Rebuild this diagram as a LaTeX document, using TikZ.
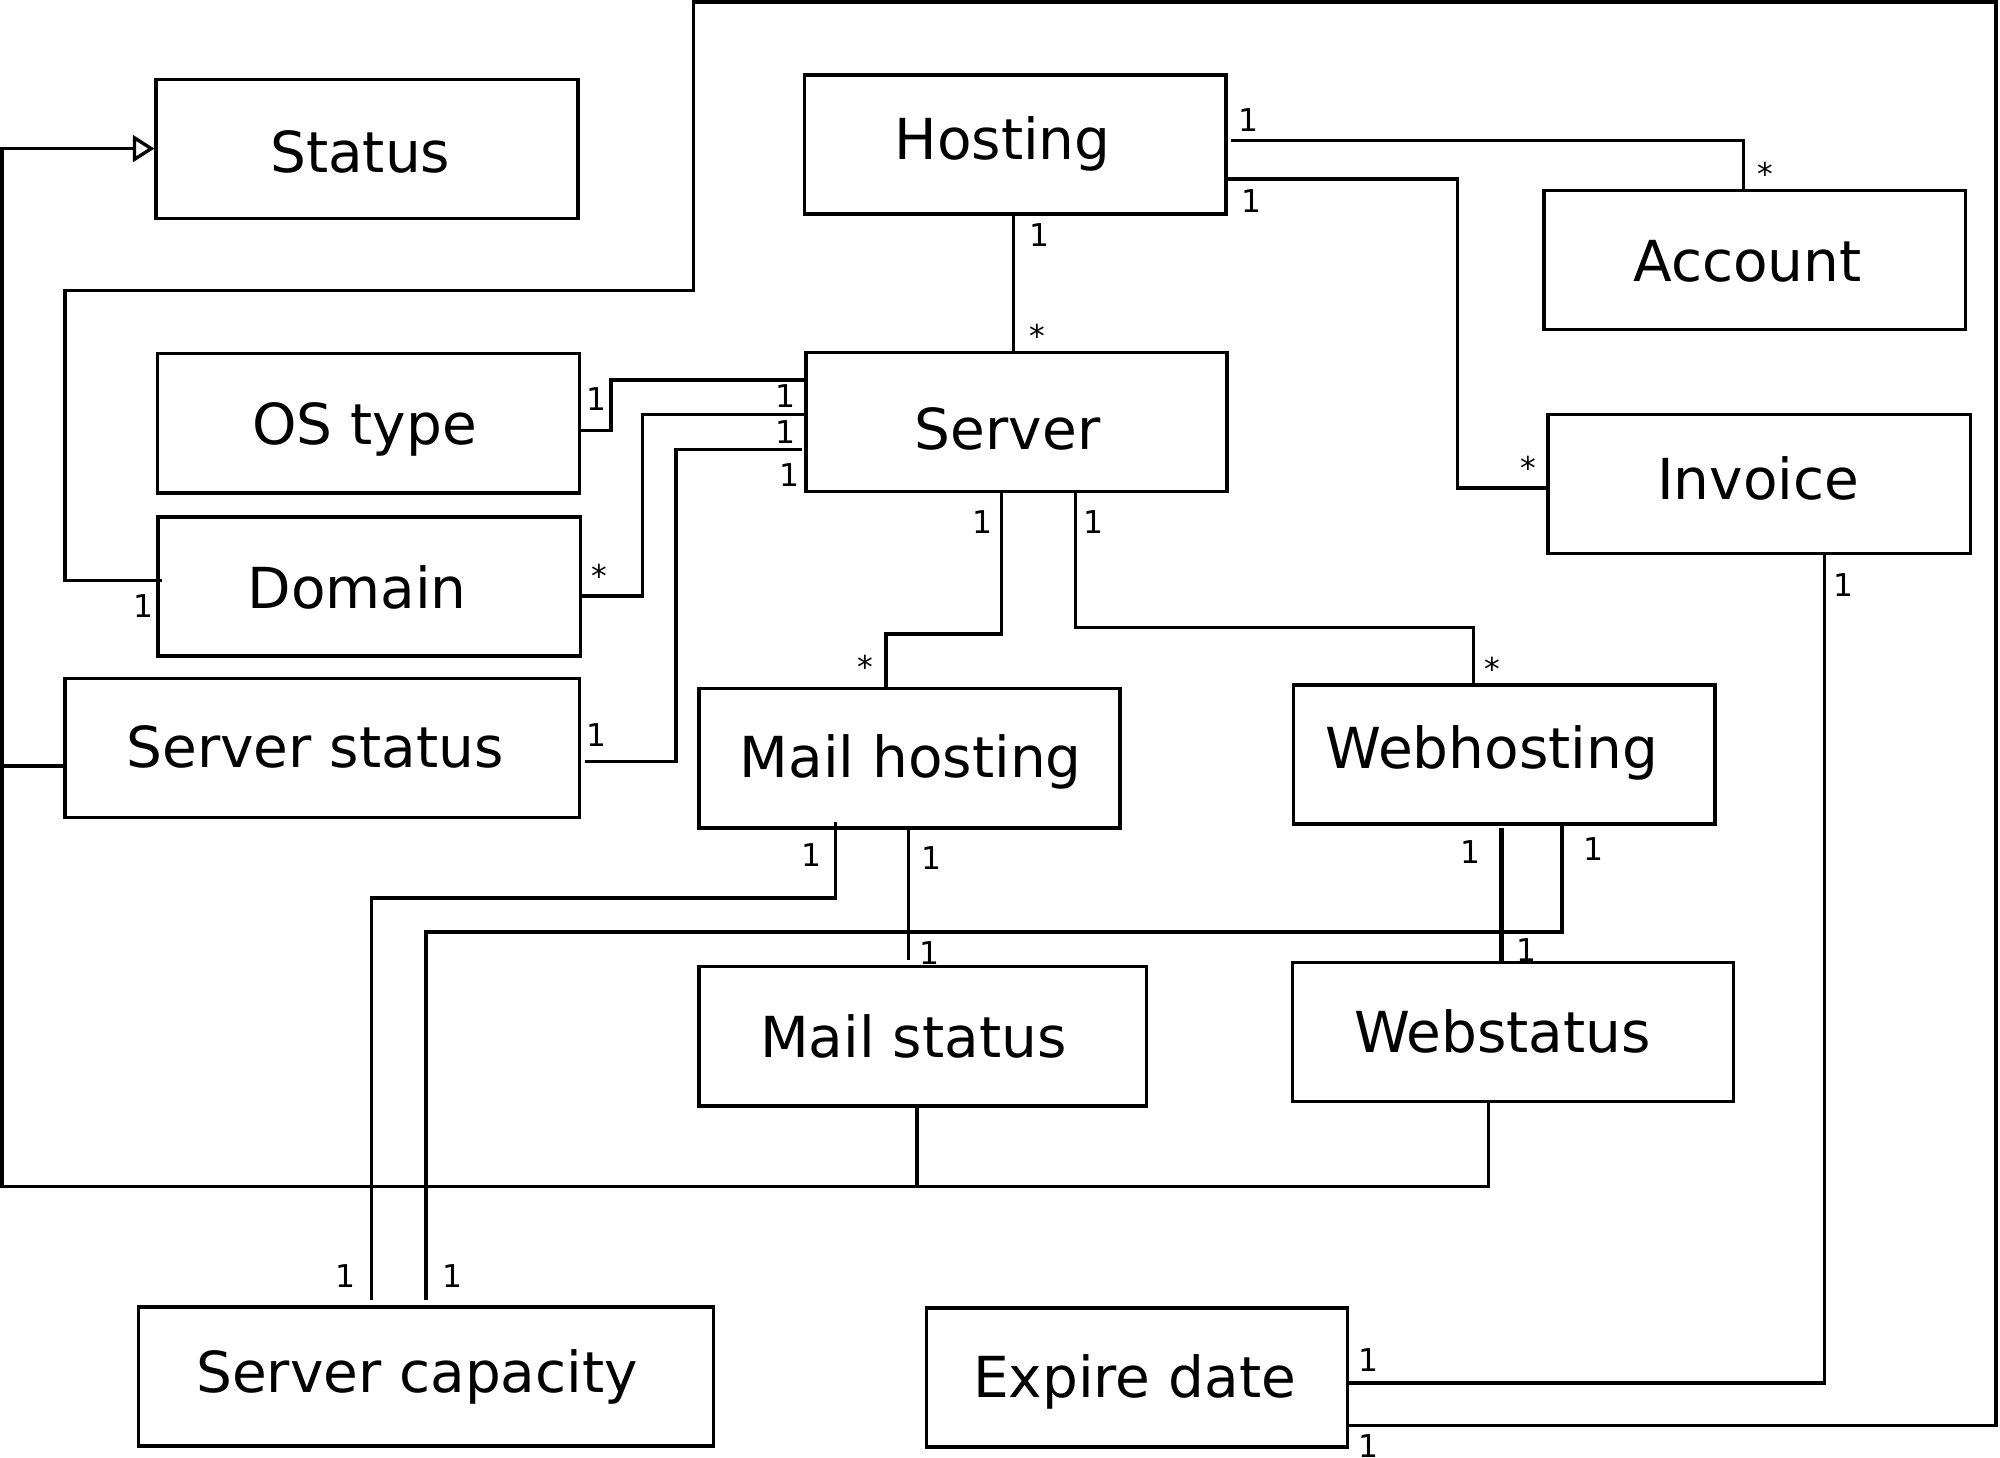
\documentclass[tikz,border=0pt]{standalone}
\usepackage{fontspec}
\setmainfont{DejaVu Sans}
\usetikzlibrary{arrows.meta}
\begin{document}
\begin{tikzpicture}[x=0.01cm,y=-0.01cm,
  box/.style={draw,line width=0.75pt,inner sep=0pt,minimum width=#1,minimum height=1.09cm},
  txt/.style={anchor=base,inner sep=0pt,font=\fontsize{12.6}{15}\selectfont},
  lab/.style={inner sep=0pt,font=\fontsize{7}{8}\selectfont},
  conn/.style={line width=0.75pt},
  gen/.style={line width=0.75pt,-{Triangle[open,length=0.17cm,width=0.21cm]}}]
\useasboundingbox (0,0) rectangle (1568,1143);
% boxes
\node[box=3.305cm] (status) at (287.75,116.75) {};
\node[box=3.30cm] (hosting) at (796,113.25) {};
\node[box=3.305cm] (account) at (1375.75,203.75) {};
\node[box=3.305cm] (ostype) at (288.75,331.9) {};
\node[box=3.30cm] (server) at (797,330.85) {};
\node[box=3.31cm] (invoice) at (1379.1,379.4) {};
\node[box=3.31cm] (domain) at (289.5,459.75) {};
\node[box=4.03cm] (serverstatus) at (252.5,586.25) {};
\node[box=3.30cm] (mailhosting) at (713,594.5) {};
\node[box=3.305cm] (webhosting) at (1179.25,591.5) {};
\node[box=3.51cm] (mailstatus) at (723.5,812.5) {};
\node[box=3.455cm] (webstatus) at (1186.25,809.25) {};
\node[box=4.51cm] (servercap) at (334,1079.1) {};
\node[box=3.30cm] (expire) at (891.5,1080) {};
% texts
\node[txt] (tstatus) at (282.5,135) {Status};
\node[txt] (thosting) at (786,125.3) {Hosting};
\node[txt] (taccount) at (1370,220.5) {Account};
\node[txt] (tostype) at (286,348.3) {OS type};
\node[txt] (tserver) at (790,352.8) {Server};
\node[txt] (tinvoice) at (1378.5,391.3) {Invoice};
\node[txt] (tdomain) at (280,476.7) {Domain};
\node[txt] (tserverstatus) at (247,601.7) {Server status};
\node[txt] (tmailhosting) at (714,609.5) {Mail hosting};
\node[txt] (twebhosting) at (1169.5,602.5) {Webhosting};
\node[txt] (tmailstatus) at (716,828.8) {Mail status};
\node[txt] (twebstatus) at (1178,824.8) {Webstatus};
\node[txt] (tservercap) at (327,1091.5) {Server capacity};
\node[txt] (texpire) at (889.5,1095.5) {Expire date};
% generalization to Status
\draw[gen] (1167,0 |- webstatus.south) -- (1167,930) -- (1.5,930) -- (1.5,116.5) -- (status.west |- 0,116.5);
\draw[conn] (719,0 |- mailstatus.south) -- (719,930);
\draw[conn] (serverstatus.west |- 0,600.5) -- (1.5,600.5);
% outer loop Domain -- Expire date
\draw[conn] ([xshift=0.045cm]domain.west |- 0,455) -- (51,455) -- (51,228) -- (543.5,228) -- (543.5,1.5) -- (1565,1.5) -- (1565,1117.5) -- ([xshift=-0.025cm]expire.east |- 0,1117.5);
% Hosting connections
\draw[conn] ([xshift=0.025cm]hosting.east |- 0,110) -- (1367,110) -- (1367,0 |- account.north);
\draw[conn] (hosting.east |- 0,140.4) -- (1142.5,140.4) -- (1142.5,382.6) -- (invoice.west |- 0,382.6);
\draw[conn] (794.5,0 |- hosting.south) -- (794.5,0 |- server.north);
% Invoice -- Expire date
\draw[conn] ([yshift=0.02cm]invoice.south -| 1430.5,0) -- (1430.5,1084.3) -- (expire.east |- 0,1084.3);
% Server left side
\draw[conn] (server.west |- 0,297.9) -- (479,297.9) -- (479,337.4) -- (ostype.east |- 0,337.4);
\draw[conn] (server.west |- 0,325.2) -- (503.5,325.2) -- (503.5,467.3) -- (domain.east |- 0,467.3);
\draw[conn] ([xshift=-0.02cm]server.west |- 0,352.5) -- (530,352.5) -- (530,597) -- ([xshift=0.03cm]serverstatus.east |- 0,597);
% Server bottom
\draw[conn] ([yshift=0.025cm]server.south -| 785,0) -- (785,497) -- (694.5,497) -- ([yshift=-0.025cm]mailhosting.north -| 694.5,0);
\draw[conn] (843,0 |- server.south) -- (843,491.8) -- (1155,491.8) -- (1155,0 |- webhosting.north);
% to Server capacity
\draw[conn] ([yshift=0.06cm]mailhosting.south -| 655,0) -- (655,704) -- (291.5,704) -- ([yshift=0.037cm]servercap.north -| 291.5,0);
\draw[conn] ([yshift=0.03cm]webhosting.south -| 1224.5,0) -- (1224.5,730.7) -- (334,730.7) -- ([yshift=0.037cm]servercap.north -| 334,0);
% status links
\draw[conn] (712.5,0 |- mailhosting.south) -- ([yshift=0.04cm]mailstatus.north -| 712.5,0);
\draw[line width=1.1pt] ([yshift=-0.02cm]webhosting.south -| 1177,0) -- (1177,0 |- webstatus.north);
% multiplicity labels
\node[lab] (l1) at (979,94.5) {1};
\node[lab] (l2) at (1384,136.5) {*};
\node[lab] (l3) at (981.5,158) {1};
\node[lab] (l4) at (1198,366.5) {*};
\node[lab] (l5) at (815,184.5) {1};
\node[lab] (l6) at (813,263) {*};
\node[lab] (l7) at (467.5,313) {1};
\node[lab] (l8) at (616,310.5) {1};
\node[lab] (l9) at (616,338.5) {1};
\node[lab] (l10) at (470,451.5) {*};
\node[lab] (l11) at (619,372.8) {1};
\node[lab] (l12) at (467.5,576) {1};
\node[lab] (l13) at (770,409.5) {1};
\node[lab] (l14) at (678.5,523) {*};
\node[lab] (l15) at (857,409.5) {1};
\node[lab] (l16) at (1170,524.5) {*};
\node[lab] (l17) at (636,670) {1};
\node[lab] (l18) at (730.5,673) {1};
\node[lab] (l19) at (728.5,747) {1};
\node[lab] (l20) at (1152.5,668) {1};
\node[lab] (l21) at (1249,666) {1};
\node[lab] (l22) at (1197,745) {1};
\node[lab] (l23) at (270.5,1000.5) {1};
\node[lab] (l24) at (355,1000.5) {1};
\node[lab] (l25) at (112.5,475) {1};
\node[lab] (l26) at (1445.5,458.5) {1};
\node[lab] (l27) at (1073,1066) {1};
\node[lab] (l28) at (1073,1134) {1};
\end{tikzpicture}
\end{document}
